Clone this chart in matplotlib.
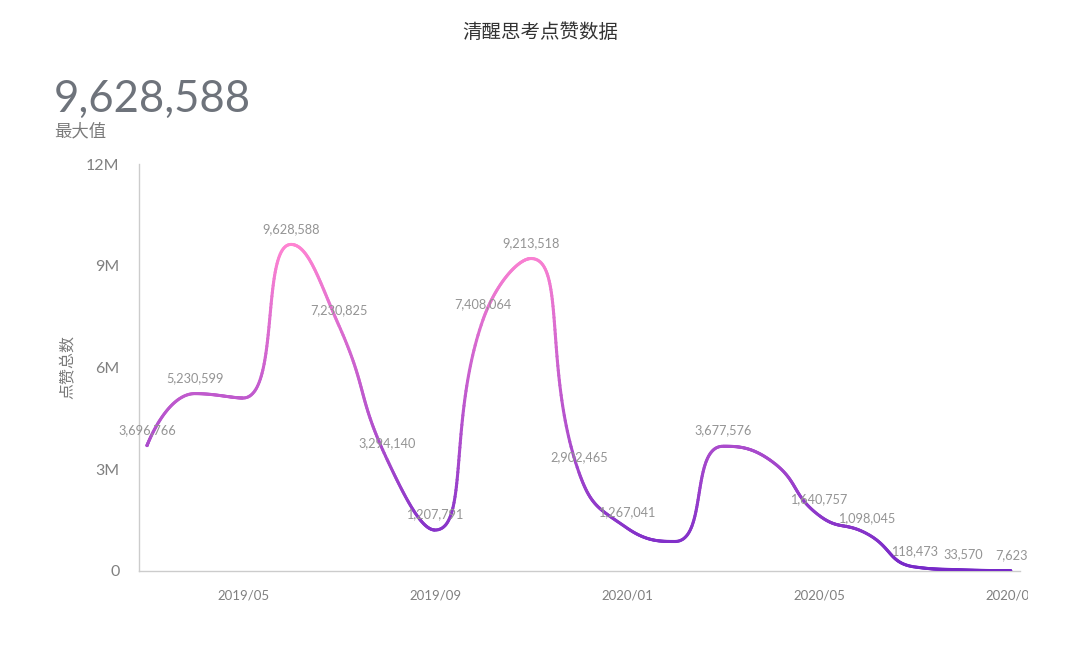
import numpy as np
import matplotlib
matplotlib.use('Agg')
import matplotlib.pyplot as plt
from matplotlib.collections import LineCollection
from matplotlib.transforms import Bbox

# ---------------- data ----------------
months = ['2019/03', '2019/04', '2019/05', '2019/06', '2019/07', '2019/08',
          '2019/09', '2019/10', '2019/11', '2019/12', '2020/01', '2020/02',
          '2020/03', '2020/04', '2020/05', '2020/06', '2020/07', '2020/08',
          '2020/09']
likes = [3696766, 5230599, 5100000, 9628588, 7230825, 3294140, 1207791,
         7408064, 9213518, 2902465, 1267041, 870000, 3677576, 3250000,
         1640757, 1098045, 118473, 33570, 7623]
# labels hidden in the original (overlap)
hidden_labels = ['2019/05', '2020/02', '2020/04']
xtick_labels = ['2019/05', '2019/09', '2020/01', '2020/05', '2020/09']
ytick_values = [0, 3000000, 6000000, 9000000, 12000000]
ytick_labels = ['0', '3M', '6M', '9M', '12M']
title = '清醒思考点赞数据'
y_name = '点赞总数'
max_caption = '最大值'

NUM_FONT = ['Lato', 'DejaVu Sans']
CJK_FONT = ['Noto Sans CJK SC', 'DejaVu Sans']

W, H = 1080, 646
fig = plt.figure(figsize=(W / 100, H / 100), dpi=100)
fig.patch.set_facecolor('white')

ax_left, ax_right, ax_top, ax_bottom = 139, 1020, 164, 571
ax = fig.add_axes([ax_left / W, 1 - ax_bottom / H,
                   (ax_right - ax_left) / W, (ax_bottom - ax_top) / H])

n = len(months)
xi = np.arange(n, dtype=float)
px_per_month = 48.0
x_lo = -(147 - ax_left) / px_per_month
x_hi = (ax_right - 147) / px_per_month
ax.set_xlim(x_lo, x_hi)
ax.set_ylim(0, 12000000)
px_per_val = (ax_bottom - ax_top) / 12000000.0

# ---------- echarts-like smooth curve (in pixel space) ----------
P = np.column_stack([xi * px_per_month, np.array(likes, float) * px_per_val])
smooth = 0.5
curve = []
cp0 = P[0].copy()
for k in range(1, n):
    prev = P[k - 1]
    cur = P[k]
    if k == n - 1:
        cp1 = cur.copy()
        ncp0 = cur.copy()
    else:
        nxt = P[k + 1]
        v = nxt - prev
        lp = np.hypot(*(cur - prev))
        ln = np.hypot(*(nxt - cur))
        r = ln / (ln + lp)
        ncp0 = cur + v * smooth * r
        ncp0 = np.minimum(ncp0, np.maximum(nxt, cur))
        ncp0 = np.maximum(ncp0, np.minimum(nxt, cur))
        v = ncp0 - cur
        cp1 = cur - v * lp / ln
        cp1 = np.minimum(cp1, np.maximum(prev, cur))
        cp1 = np.maximum(cp1, np.minimum(prev, cur))
        v = cur - cp1
        ncp0 = cur + v * ln / lp
    t = np.linspace(0, 1, 60)[:, None]
    seg = ((1 - t) ** 3) * prev + 3 * ((1 - t) ** 2) * t * cp0 + \
        3 * (1 - t) * t ** 2 * cp1 + t ** 3 * cur
    curve.append(seg if k == 1 else seg[1:])
    cp0 = ncp0
curve = np.vstack(curve)
cx = curve[:, 0] / px_per_month
cy = curve[:, 1] / px_per_val

pts = np.column_stack([cx, cy]).reshape(-1, 1, 2)
segs = np.concatenate([pts[:-1], pts[1:]], axis=1)
vmin, vmax = min(likes), max(likes)
f = np.clip(((cy[:-1] + cy[1:]) / 2 - vmin) / (vmax - vmin), 0, 1)[:, None]
c_lo = np.array([118, 40, 200]) / 255.0
c_hi = np.array([255, 132, 210]) / 255.0
cols = c_lo * (1 - f) + c_hi * f
lc = LineCollection(segs, colors=cols, linewidths=2.2, capstyle='round',
                    joinstyle='round', zorder=3)
ax.add_collection(lc)

# data labels
for i, (m, v) in enumerate(zip(months, likes)):
    if m in hidden_labels:
        continue
    ax.annotate(f'{v:,}', (i, v), xytext=(0, 7), textcoords='offset points',
                ha='center', va='bottom', fontsize=9.2, color='#949494',
                family=NUM_FONT, zorder=4)

# axes styling
for s in ['top', 'right']:
    ax.spines[s].set_visible(False)
for s in ['left', 'bottom']:
    ax.spines[s].set_color('#cccccc')
    ax.spines[s].set_linewidth(1.0)
ax.set_yticks(ytick_values)
ax.set_yticklabels(ytick_labels)
ax.set_xticks([months.index(m) for m in xtick_labels])
ax.set_xticklabels(xtick_labels)
ax.tick_params(axis='both', length=0, colors='#808080')
ax.tick_params(axis='y', pad=14, labelsize=11.5)
ax.tick_params(axis='x', pad=13, labelsize=9.5)
for lbl in ax.get_xticklabels() + ax.get_yticklabels():
    lbl.set_family(NUM_FONT)
ax.grid(False)

# clip last x label like the original (cut at the container edge)
last = ax.get_xticklabels()[-1]
last.set_clip_box(Bbox.from_extents(0, 0, 1028, H))
last.set_clip_on(True)

# y axis name
fig.text(68 / W, 1 - 367 / H, y_name, rotation=90, ha='center', va='center',
         fontsize=11.5, color='#7a7a7a', family=CJK_FONT)

# title
fig.text(540 / W, 1 - 32 / H, title, ha='center', va='center', fontsize=14,
         color='#333333', family=CJK_FONT, fontweight='medium')

# big number
fig.text(54 / W, 1 - 112 / H, f'{max(likes):,}', ha='left', va='baseline',
         fontsize=31.5, color='#6e737b', family=NUM_FONT)
fig.text(54 / W, 1 - 131 / H, max_caption, ha='left', va='center',
         fontsize=12.5, color='#7a7a7a', family=CJK_FONT)

fig.savefig('out.png', dpi=100, facecolor='white')
